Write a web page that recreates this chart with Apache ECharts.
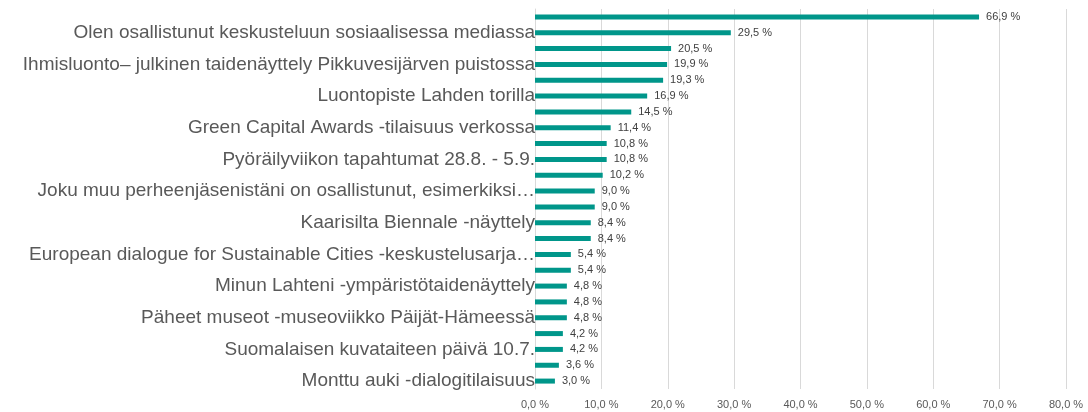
<!DOCTYPE html>
<html>
<head>
<meta charset="utf-8">
<script src="https://cdn.jsdelivr.net/npm/echarts@6/dist/echarts.min.js"></script>
<style>
  html, body { margin: 0; padding: 0; background: #fff; }
  #chart { width: 1088px; height: 412px; }
</style>
</head>
<body>
<div id="chart"></div>
<script>
// kategoriat (joka toinen nimi näkyy kuvassa)
let categories = [
    '', 'Olen osallistunut keskusteluun sosiaalisessa mediassa',
    '', 'Ihmisluonto– julkinen taidenäyttely Pikkuvesijärven puistossa',
    '', 'Luontopiste Lahden torilla',
    '', 'Green Capital Awards -tilaisuus verkossa',
    '', 'Pyöräilyviikon tapahtumat 28.8. - 5.9.',
    '', 'Joku muu perheenjäsenistäni on osallistunut, esimerkiksi…',
    '', 'Kaarisilta Biennale -näyttely',
    '', 'European dialogue for Sustainable Cities -keskustelusarja…',
    '', 'Minun Lahteni -ympäristötaidenäyttely',
    '', 'Päheet museot -museoviikko Päijät-Hämeessä',
    '', 'Suomalaisen kuvataiteen päivä 10.7.',
    '', 'Monttu auki -dialogitilaisuus'
]
let values = [66.9, 29.5, 20.5, 19.9, 19.3, 16.9, 14.5, 11.4, 10.8, 10.8, 10.2, 9.0,
    9.0, 8.4, 8.4, 5.4, 5.4, 4.8, 4.8, 4.8, 4.2, 4.2, 3.6, 3.0]
let xTicks = [0, 10, 20, 30, 40, 50, 60, 70, 80]

function pct(v) {
    return Number(v).toFixed(1).replace('.', ',') + ' %'
}

let myChart = echarts.init(document.getElementById('chart'))
let option = {
    animation: false,
    grid: {
        top: 9,
        left: 535,
        right: 22,
        bottom: 23
    },
    xAxis: {
        type: 'value',
        min: xTicks[0],
        max: xTicks[xTicks.length - 1],
        interval: 10,
        axisLine: { show: false },
        axisTick: { show: false },
        splitLine: {
            show: true,
            lineStyle: { color: '#d9d9d9', width: 1 }
        },
        axisLabel: {
            color: '#595959',
            fontSize: 11,
            fontFamily: 'Liberation Sans, Arial',
            margin: 10,
            formatter: function (v) { return pct(v) }
        }
    },
    yAxis: {
        type: 'category',
        inverse: true,
        data: categories,
        axisLine: {
            show: true,
            lineStyle: { color: '#d9d9d9' }
        },
        axisTick: { show: false },
        axisLabel: {
            interval: 0,
            color: '#595959',
            fontSize: 19,
            fontFamily: 'Liberation Sans, Arial',
            margin: 0
        }
    },
    series: [{
        type: 'bar',
        data: values,
        barWidth: 5,
        itemStyle: { color: '#00968A' },
        label: {
            show: true,
            position: 'right',
            distance: 7,
            color: '#404040',
            fontSize: 11,
            fontFamily: 'Liberation Sans, Arial',
            formatter: function (p) { return pct(p.value) }
        }
    }]
}
myChart.setOption(option)
</script>
</body>
</html>
